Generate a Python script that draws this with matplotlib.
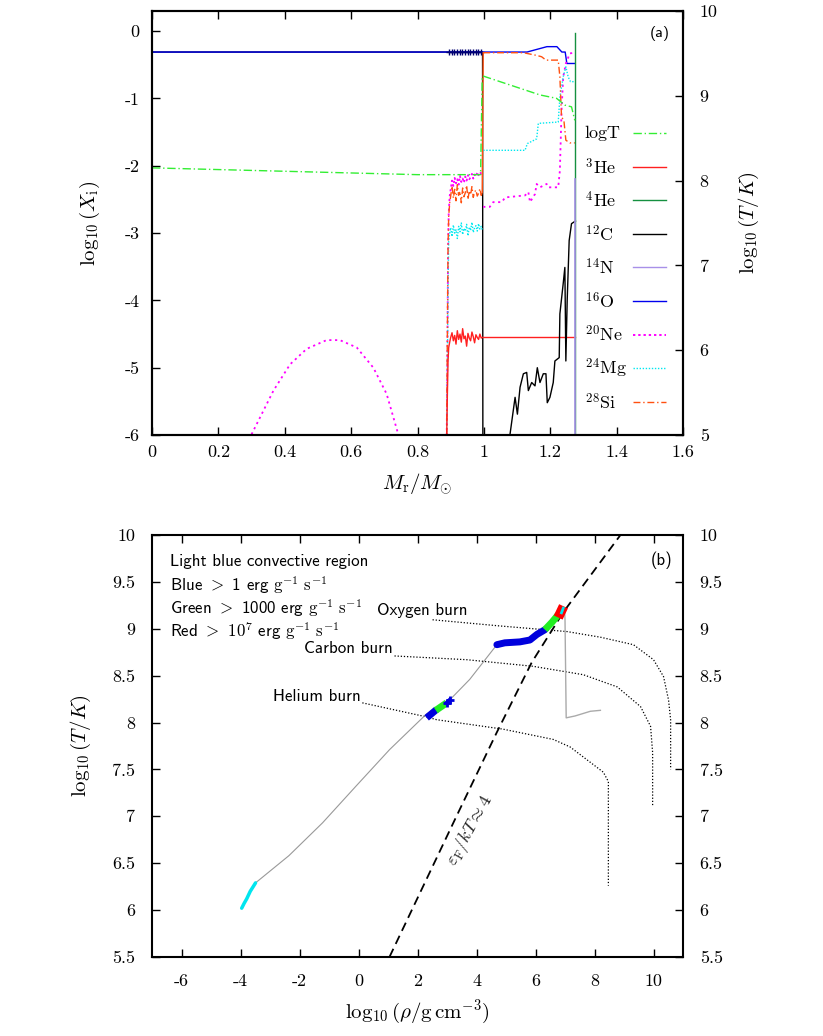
import matplotlib
matplotlib.use("Agg")
import matplotlib.pyplot as plt
from matplotlib.ticker import FuncFormatter
import numpy as np

plt.rcParams['font.family'] = 'serif'
plt.rcParams['font.serif'] = ['cmr10', 'DejaVu Serif']
plt.rcParams['mathtext.fontset'] = 'cm'
plt.rcParams['axes.unicode_minus'] = False
plt.rcParams['axes.formatter.use_mathtext'] = True

# ---------------- Panel (a) data ----------------
core_x = [0.888, 0.890, 0.892, 0.894, 0.897, 0.900, 0.904, 0.908, 0.912, 0.916,
          0.920, 0.924, 0.928, 0.932, 0.936, 0.940, 0.944, 0.948, 0.952, 0.956,
          0.960, 0.964, 0.968, 0.972, 0.976, 0.980, 0.984, 0.988, 0.992, 0.995]
si_core = [-6.0, -4.5, -3.2, -2.75, -2.55, -2.45, -2.30, -2.48, -2.35, -2.52,
           -2.28, -2.44, -2.38, -2.55, -2.33, -2.46, -2.40, -2.29, -2.50, -2.37,
           -2.43, -2.31, -2.47, -2.39, -2.36, -2.45, -2.41, -2.34, -2.44, -2.40]
ne_core = [-6.0, -4.8, -3.3, -2.70, -2.45, -2.35, -2.22, -2.30, -2.18, -2.26,
           -2.20, -2.28, -2.15, -2.24, -2.19, -2.25, -2.16, -2.22, -2.14, -2.20,
           -2.17, -2.12, -2.19, -2.13, -2.16, -2.10, -2.14, -2.09, -2.12, -2.10]
mg_core = [-6.0, -5.0, -3.8, -3.10, -3.00, -2.92, -3.05, -2.88, -3.00, -2.95,
           -3.08, -2.90, -2.98, -2.85, -3.02, -2.93, -2.97, -2.87, -3.04, -2.91,
           -2.96, -2.84, -2.99, -2.92, -2.89, -2.97, -2.86, -2.94, -2.90, -2.95]
he3_core = [-6.0, -5.4, -4.9, -4.70, -4.62, -4.55, -4.48, -4.60, -4.52, -4.65,
            -4.45, -4.58, -4.50, -4.62, -4.42, -4.57, -4.53, -4.68, -4.49, -4.56,
            -4.60, -4.47, -4.54, -4.63, -4.51, -4.55, -4.58, -4.50, -4.56, -4.55]

si_env_x = [0.998, 1.119, 1.159, 1.174, 1.187, 1.224, 1.229, 1.234, 1.241, 1.247, 1.259, 1.274]
si_env_y = [-0.32, -0.32, -0.36, -0.38, -0.43, -0.43, -0.68, -1.28, -1.32, -1.62, -1.66, -1.66]

ne_par_x = [0.300, 0.366, 0.416, 0.466, 0.526, 0.566, 0.617, 0.667, 0.707, 0.742]
ne_par_y = [-5.99, -5.34, -4.95, -4.72, -4.59, -4.59, -4.70, -5.00, -5.39, -5.99]
ne_env_x = [0.998, 1.018, 1.028, 1.054, 1.064, 1.124, 1.134, 1.139, 1.154, 1.159,
            1.169, 1.189, 1.194, 1.224, 1.229, 1.234, 1.239, 1.247, 1.259, 1.274]
ne_env_y = [-2.61, -2.61, -2.54, -2.54, -2.47, -2.44, -2.39, -2.54, -2.42, -2.27,
            -2.32, -2.27, -2.32, -2.32, -2.07, -1.18, -0.68, -0.48, -0.33, -0.32]

mg_env_x = [0.998, 1.124, 1.131, 1.159, 1.164, 1.224, 1.229, 1.239, 1.247, 1.254, 1.261, 1.274]
mg_env_y = [-1.77, -1.77, -1.67, -1.60, -1.37, -1.35, -0.98, -0.68, -0.53, -0.68, -0.75, -0.75]

he3_env_x = [0.998, 1.274]
he3_env_y = [-4.55, -4.55]

o16_x = [0.0, 0.998, 1.13, 1.16, 1.19, 1.22, 1.235, 1.245, 1.25, 1.274]
o16_y = [-0.31, -0.31, -0.31, -0.27, -0.23, -0.23, -0.31, -0.31, -0.48, -0.48]
o16_mark_x = [0.895, 0.903, 0.911, 0.919, 0.927, 0.935, 0.943, 0.951,
              0.959, 0.967, 0.975, 0.983, 0.991]
o16_mark_y = [-0.31] * 13

c12_core_x = [0.0, 0.996, 0.997]
c12_core_y = [-0.31, -0.31, -6.5]
c12_env_x = [1.079, 1.094, 1.101, 1.109, 1.119, 1.129, 1.134, 1.144, 1.154, 1.161,
             1.169, 1.179, 1.187, 1.191, 1.199, 1.209, 1.214, 1.227, 1.229, 1.239,
             1.244, 1.247, 1.251, 1.257, 1.264, 1.276]
c12_env_y = [-5.98, -5.44, -5.69, -5.29, -5.09, -5.07, -5.34, -5.22, -5.27, -5.00,
             -5.22, -5.09, -5.09, -5.52, -5.44, -5.22, -4.90, -4.85, -4.20, -3.75,
             -3.51, -4.90, -4.00, -3.11, -2.86, -2.82]

he4_x = [1.2735, 1.2735]
he4_y = [-6.5, -0.02]
n14_x = [1.2748, 1.2748]
n14_y = [-6.5, -2.2]

logt_x = [0.0, 0.2, 0.4, 0.6, 0.8, 0.99, 0.995, 1.0, 1.169, 1.219, 1.244, 1.264, 1.274]
logt_y = [8.15, 8.13, 8.11, 8.09, 8.07, 8.07, 9.23, 9.23, 9.01, 8.97, 8.89, 8.87, 8.71]

legend_labels = ['logT', r'$^{3}\mathrm{He}$', r'$^{4}\mathrm{He}$', r'$^{12}\mathrm{C}$',
                 r'$^{14}\mathrm{N}$', r'$^{16}\mathrm{O}$', r'$^{20}\mathrm{Ne}$',
                 r'$^{24}\mathrm{Mg}$', r'$^{28}\mathrm{Si}$']

# ---------------- Panel (b) data ----------------
track_x = [-3.49, -2.36, -1.22, -0.09, 1.05, 2.30, 3.09, 3.77, 4.69]
track_y = [6.29, 6.58, 6.93, 7.32, 7.71, 8.09, 8.24, 8.46, 8.83]
track2_x = [6.98, 7.00, 7.04, 7.34, 7.86, 8.20]
track2_y = [9.22, 9.10, 8.05, 8.07, 8.12, 8.13]
conv_x = [-3.96, -3.88, -3.79, -3.67, -3.55, -3.49]
conv_y = [6.02, 6.07, 6.12, 6.20, 6.26, 6.29]
blue_he_x = [2.31, 2.65]
blue_he_y = [8.05, 8.14]
green_he_x = [2.62, 2.99]
green_he_y = [8.13, 8.21]
blue_he2_x = [2.99, 3.09]
blue_he2_y = [8.21, 8.24]
blue_c_x = [4.69, 4.96, 5.47, 5.81, 6.05, 6.32]
blue_c_y = [8.83, 8.85, 8.86, 8.88, 8.94, 8.99]
green_c_x = [6.32, 6.56, 6.77]
green_c_y = [8.99, 9.07, 9.15]
red_x = [6.77, 6.86, 6.95]
red_y = [9.12, 9.18, 9.24]
cyan_top_x = [6.88, 6.94]
cyan_top_y = [9.17, 9.22]

degen_x = [1.05, 3.32, 4.68, 5.87, 6.95, 8.88]
degen_y = [5.50, 7.00, 7.89, 8.64, 9.18, 10.0]

oxy_x = [2.51, 4.79, 7.07, 8.20, 9.32, 10.0, 10.34, 10.51, 10.58, 10.58]
oxy_y = [9.096, 9.03, 8.97, 8.91, 8.83, 8.67, 8.49, 8.24, 8.03, 7.50]
carb_x = [1.22, 3.67, 5.91, 7.62, 8.77, 9.56, 9.90, 9.97, 9.97]
carb_y = [8.71, 8.67, 8.60, 8.51, 8.38, 8.17, 7.96, 7.68, 7.11]
hel_x = [0.13, 2.31, 2.65, 4.89, 6.60, 7.17, 8.30, 8.47, 8.47]
hel_y = [8.21, 8.06, 8.03, 7.93, 7.82, 7.74, 7.47, 7.37, 6.26]

fig = plt.figure(figsize=(8.23, 10.36), dpi=100)
fmt = FuncFormatter(lambda v, p: '%g' % v)

C_LOGT = '#33ee33'
C_HE3 = '#ff2020'
C_HE4 = '#159040'
C_C12 = '#000000'
C_N14 = '#a890e8'
C_O16 = '#0000ee'
C_NE = '#ff00ff'
C_MG = '#00e8f0'
C_SI = '#ff5010'

# ---------------- Panel (a) ----------------
ax1 = fig.add_axes([0.1847, 0.5801, 0.6452, 0.4093])
ax1.set_xlim(0, 1.6)
ax1.set_ylim(-6, 0.3)
ax1r = ax1.twinx()
ax1r.set_ylim(5, 10)

ax1.plot(c12_core_x, c12_core_y, color=C_C12, lw=1.0)
ax1.plot(o16_x, o16_y, color=C_O16, lw=1.0)
ax1.plot(o16_mark_x, o16_mark_y, ls='none', marker='+', ms=4, mew=1.0, color='#000070')
ax1.plot(ne_par_x, ne_par_y, color=C_NE, ls=(0, (1.2, 2.0)), lw=1.3)
ax1.plot(core_x, ne_core, color=C_NE, ls=(0, (1.2, 1.5)), lw=1.3)
ax1.plot(ne_env_x, ne_env_y, color=C_NE, ls=(0, (1.2, 2.0)), lw=1.3)
ax1.plot(core_x, mg_core, color=C_MG, ls=(0, (1, 1.2)), lw=1.0)
ax1.plot(mg_env_x, mg_env_y, color=C_MG, ls=(0, (1, 1.2)), lw=1.0)
ax1.plot(core_x, si_core, color=C_SI, ls=(0, (5, 2, 1, 2)), lw=1.0)
ax1.plot([0.995, 0.998], [-2.40, -0.32], color=C_SI, lw=1.0)
ax1.plot(si_env_x, si_env_y, color=C_SI, ls=(0, (5, 2, 1, 2)), lw=1.0)
ax1.plot(core_x, he3_core, color=C_HE3, lw=1.0)
ax1.plot(he3_env_x, he3_env_y, color=C_HE3, lw=1.0)
ax1.plot(c12_env_x, c12_env_y, color=C_C12, lw=1.0)
ax1.plot(he4_x, he4_y, color=C_HE4, lw=1.0)
ax1.plot(n14_x, n14_y, color=C_N14, lw=1.2)
ax1r.plot(logt_x, logt_y, color=C_LOGT, ls=(0, (6, 2, 1, 2)), lw=1.0)

ax1.set_xticks([0, 0.2, 0.4, 0.6, 0.8, 1.0, 1.2, 1.4, 1.6])
ax1.set_yticks([0, -1, -2, -3, -4, -5, -6])
ax1r.set_yticks([5, 6, 7, 8, 9, 10])
for a in (ax1, ax1r):
    a.xaxis.set_major_formatter(fmt)
    a.yaxis.set_major_formatter(fmt)
ax1.tick_params(direction='in', length=6, width=1.0, labelsize=13, top=True, right=False)
ax1.tick_params(axis='x', pad=7)
ax1.tick_params(axis='y', pad=9)
ax1r.tick_params(direction='in', length=6, width=1.0, labelsize=13, pad=12)
for a in (ax1, ax1r):
    for s in a.spines.values():
        s.set_linewidth(1.5)

ax1.set_ylabel(r'$\log_{10}(X_{\rm i})$', fontsize=15, labelpad=16)
ax1r.set_ylabel(r'$\log_{10}(T/K)$', fontsize=15, labelpad=14)
ax1.set_xlabel(r'$M_{\rm r}/M_{\odot}$', fontsize=15, labelpad=8)

ax1.text(0.957, 0.948, '(a)', transform=ax1.transAxes, family='cmss10', fontsize=11.5,
         ha='center', va='center')

leg_styles = [dict(color=C_LOGT, ls=(0, (6, 2, 1, 2))),
              dict(color=C_HE3, ls='-'),
              dict(color=C_HE4, ls='-'),
              dict(color=C_C12, ls='-'),
              dict(color=C_N14, ls='-'),
              dict(color=C_O16, ls='-'),
              dict(color=C_NE, ls=(0, (1.2, 1.5)), lw=1.4),
              dict(color=C_MG, ls=(0, (1, 1.2))),
              dict(color=C_SI, ls=(0, (5, 2, 1, 2)))]
for i, (lab, st) in enumerate(zip(legend_labels, leg_styles)):
    yy = 0.712 - i * 0.0792
    ax1.text(0.815, yy, lab, transform=ax1.transAxes, fontsize=13, ha='left', va='center')
    kw = dict(lw=1.0)
    kw.update(st)
    ax1.plot([0.906, 0.968], [yy, yy], transform=ax1.transAxes, **kw)

# ---------------- Panel (b) ----------------
ax2 = fig.add_axes([0.1847, 0.0763, 0.6452, 0.4073])
ax2.set_xlim(-7, 11)
ax2.set_ylim(5.5, 10)

ax2.plot(oxy_x, oxy_y, color='k', ls=(0, (1, 1.5)), lw=0.9)
ax2.plot(carb_x, carb_y, color='k', ls=(0, (1, 1.5)), lw=0.9)
ax2.plot(hel_x, hel_y, color='k', ls=(0, (1, 1.5)), lw=0.9)
ax2.plot(degen_x, degen_y, color='k', ls=(0, (5, 3)), lw=1.3)
ax2.plot(track_x, track_y, color='#999999', lw=0.8)
ax2.plot(track2_x, track2_y, color='#aaaaaa', lw=1.0)
ax2.plot(conv_x, conv_y, color='#00e5ee', lw=2.5, solid_capstyle='round')
ax2.plot(blue_he_x, blue_he_y, color='#0000dd', lw=5, solid_capstyle='butt')
ax2.plot(green_he_x, green_he_y, color='#22ee22', lw=5, solid_capstyle='butt')
ax2.plot(blue_he2_x, blue_he2_y, color='#0000dd', lw=3, marker='+', ms=6, mew=2)
ax2.plot(blue_c_x, blue_c_y, color='#0000dd', lw=5, solid_capstyle='round')
ax2.plot(green_c_x, green_c_y, color='#22ee22', lw=5, solid_capstyle='butt')
ax2.plot(red_x, red_y, color='#ff0000', lw=7, solid_capstyle='butt')
ax2.plot(cyan_top_x, cyan_top_y, color='#00e5ee', lw=2)

ax2.text(3.80, 6.85, r'$\varepsilon_{\rm F}/kT \approx 4$', fontsize=13, rotation=61,
         ha='center', va='center', color='#222222')

sans = 'cmss10'
tfs = 12.2
ax2.text(0.034, 0.938, 'Light blue convective region', transform=ax2.transAxes,
         family=sans, fontsize=tfs, va='center')
ax2.text(0.034, 0.882, r'Blue $>$ 1 erg $\mathrm{g}^{-1}\ \mathrm{s}^{-1}$', transform=ax2.transAxes,
         family=sans, fontsize=tfs, va='center')
ax2.text(0.034, 0.827, r'Green $>$ 1000 erg $\mathrm{g}^{-1}\ \mathrm{s}^{-1}$', transform=ax2.transAxes,
         family=sans, fontsize=tfs, va='center')
ax2.text(0.034, 0.773, r'Red $>$ $10^{7}$ erg $\mathrm{g}^{-1}\ \mathrm{s}^{-1}$', transform=ax2.transAxes,
         family=sans, fontsize=tfs, va='center')
ax2.text(0.424, 0.822, 'Oxygen burn', transform=ax2.transAxes, family=sans, fontsize=tfs, va='center')
ax2.text(0.286, 0.732, 'Carbon burn', transform=ax2.transAxes, family=sans, fontsize=tfs, va='center')
ax2.text(0.228, 0.618, 'Helium burn', transform=ax2.transAxes, family=sans, fontsize=tfs, va='center')
ax2.text(0.960, 0.941, '(b)', transform=ax2.transAxes, family=sans, fontsize=12,
         ha='center', va='center')

ax2.set_xticks([-6, -4, -2, 0, 2, 4, 6, 8, 10])
ax2.set_yticks([5.5, 6, 6.5, 7, 7.5, 8, 8.5, 9, 9.5, 10])
ax2.xaxis.set_major_formatter(fmt)
ax2.yaxis.set_major_formatter(fmt)
ax2.tick_params(direction='in', length=6, width=1.0, labelsize=13, top=True, right=True,
                labelright=True)
ax2.tick_params(axis='x', pad=12)
ax2.tick_params(axis='y', pad=12)
for s in ax2.spines.values():
    s.set_linewidth(1.5)
ax2.set_ylabel(r'$\log_{10}(T/K)$', fontsize=15, labelpad=14)
ax2.set_xlabel(r'$\log_{10}(\rho/\mathrm{g\,cm^{-3}})$', fontsize=15, labelpad=6)

fig.savefig('out.png', dpi=100)
